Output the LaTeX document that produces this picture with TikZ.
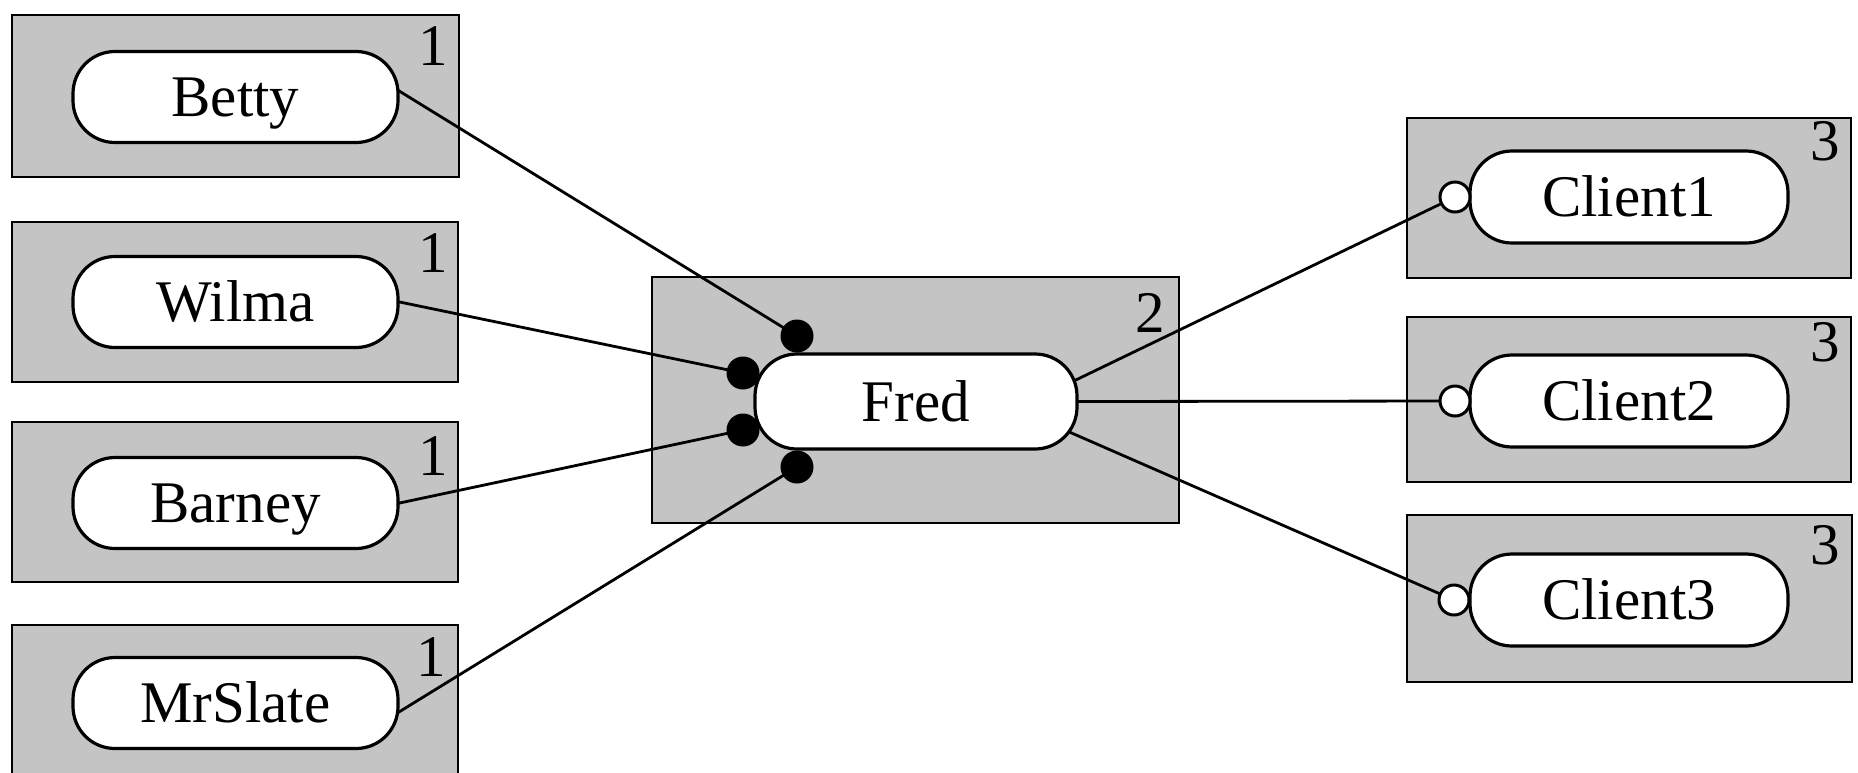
\documentclass[tikz,border=0pt]{standalone}
\usepackage{fontspec}
\setmainfont{Liberation Serif}
\usetikzlibrary{calc}
\pgfdeclarelayer{boxlayer}
\pgfdeclarelayer{linelayer}
\pgfsetlayers{boxlayer,linelayer,main}
\tikzset{
  graybox/.style={draw=black, line width=0.9pt, fill=black!23, inner sep=0pt},
  pill/.style={draw=black, line width=1.6pt, fill=white, rounded corners=21pt, inner sep=0pt,
    font=\fontsize{29.5}{33}\selectfont, text height=19.5pt, text depth=0pt},
  leftpill/.style={pill, minimum width=162.5pt, minimum height=45.5pt},
  clientpill/.style={pill, minimum width=159pt, minimum height=46pt},
  fredpill/.style={pill, minimum width=161pt, minimum height=47.5pt},
  dotend/.style={circle, fill=black, minimum size=16.5pt, inner sep=0pt},
  ringend/.style={circle, draw=black, line width=1.5pt, fill=white, minimum size=15pt, inner sep=0pt},
  conn/.style={line width=1.4pt},
  tag/.style={font=\fontsize{29.5}{33}\selectfont, inner sep=0pt, text height=19.5pt, text depth=0pt},
}
\begin{document}
\begin{tikzpicture}[x=0.5pt,y=-0.5pt]
\useasboundingbox (0,0) rectangle (1858,772);

% boxes
\begin{pgfonlayer}{boxlayer}
\node[graybox, minimum width=223.5pt, minimum height=81pt] (bettybox) at (235.5,96) {};
\node[graybox, minimum width=223pt, minimum height=80pt] (wilmabox) at (235,302) {};
\node[graybox, minimum width=223pt, minimum height=80pt] (barneybox) at (235,502) {};
\node[graybox, minimum width=223pt, minimum height=85pt] (slatebox) at (235,710) {};
\node[graybox, minimum width=263.5pt, minimum height=123pt] (fredbox) at (915.5,400) {};
\node[graybox, minimum width=222pt, minimum height=80pt] (c1box) at (1629,198) {};
\node[graybox, minimum width=222pt, minimum height=82.5pt] (c2box) at (1629,399.5) {};
\node[graybox, minimum width=222.5pt, minimum height=83.5pt] (c3box) at (1629.5,598.5) {};
\end{pgfonlayer}

% tags
\node[tag] (t1) at (433,46) {1};
\node[tag] (t2) at (433,253) {1};
\node[tag] (t3) at (433,456) {1};
\node[tag] (t4) at (431,657) {1};
\node[tag] (t5) at (1150,313) {2};
\node[tag] (t6) at (1825,141) {3};
\node[tag] (t7) at (1825,342) {3};
\node[tag] (t8) at (1825,545) {3};

% pills
\node[leftpill] (betty) at (235.5,97) {Betty};
\node[leftpill] (wilma) at (235.5,302) {Wilma};
\node[leftpill] (barney) at (235.5,503) {Barney};
\node[leftpill] (mrslate) at (235.5,703) {MrSlate};
\node[fredpill] (fred) at (916,401.5) {Fred};
\node[clientpill] (client1) at (1629,197) {Client1};
\node[clientpill] (client2) at (1629,401) {Client2};
\node[clientpill] (client3) at (1629,600) {Client3};

% connection ends
\node[dotend] (d1) at (797,336) {};
\node[dotend] (d2) at (743,373) {};
\node[dotend] (d3) at (743,430) {};
\node[dotend] (d4) at (797,467) {};
\node[ringend] (r1) at (1455,197) {};
\node[ringend] (r2) at (1455,401) {};
\node[ringend] (r3) at (1454,600) {};

% connectors
\begin{pgfonlayer}{linelayer}
\draw[conn] ($(betty.2)!-6pt!(d1)$) -- (d1.center);
\draw[conn] ($(wilma.0)!-6pt!(d2)$) -- (d2.center);
\draw[conn] ($(barney.0)!-6pt!(d3)$) -- (d3.center);
\draw[conn] ($(mrslate.-3.5)!-6pt!(d4)$) -- (d4.center);
\draw[conn] ($(fred.8)!-6pt!(r1)$) -- (r1.center);
\draw[conn] ($(fred.east)!-6pt!(r2)$) -- (r2.center);
\draw[conn] ($(fred.-12)!-6pt!(r3)$) -- (r3.center);
\end{pgfonlayer}
\end{tikzpicture}
\end{document}
